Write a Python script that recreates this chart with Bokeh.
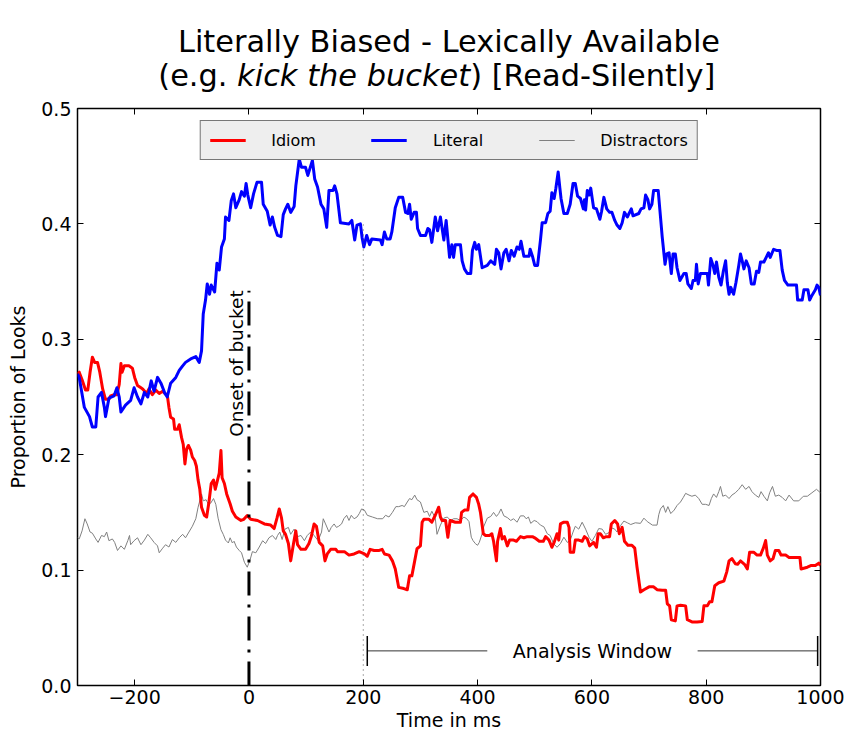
import math
from bokeh.plotting import figure
from bokeh.layouts import column
from bokeh.models import (Label, Legend, LegendItem, LinearAxis, FixedTicker,
                          CustomJSTickFormatter, Range1d)
from bokeh.embed import file_html
from bokeh.resources import INLINE

FONT = "DejaVu Sans"
WIDTH, HEIGHT = 851, 735
HEAD_H = 95
FRAME_TOP = 108
FRAME_LEFT, FRAME_RIGHT = 77, 820

# ---------------------------------------------------------------- data
# Proportion of looks over time (ms relative to onset of "bucket")
literal_t = [-300, -297, -288, -279, -274, -268, -264, -258, -253, -251, -245, -236, -231, -227,
             -224, -216, -207, -201, -195, -189, -183, -177, -171, -166, -160, -154, -147, -143,
             -137, -128, -122, -116, -111, -102, -93, -87, -83, -80, -76, -73, -69, -66, -60, -56,
             -52, -48, -43, -41, -35, -31, -27, -23, -17, -13, -8, -5, -2, 3, 8, 14, 22, 25, 32,
             37, 41, 45, 50, 56, 60, 64, 68, 73, 79, 82, 88, 92, 99, 103, 111, 115, 120, 126, 131,
             136, 140, 147, 150, 154, 160, 175, 180, 185, 189, 195, 198, 201, 206, 211, 215, 230,
             233, 237, 241, 247, 250, 256, 262, 269, 274, 278, 281, 284, 289, 293, 295, 300, 309,
             313, 316, 320, 326, 330, 335, 341, 345, 351, 355, 358, 361, 370, 373, 377, 382, 388,
             391, 395, 398, 402, 408, 417, 423, 430, 433, 437, 441, 446, 450, 455, 459, 464, 469,
             473, 476, 481, 490, 492, 496, 500, 505, 510, 513, 519, 523, 527, 530, 534, 537, 541,
             544, 546, 551, 557, 562, 567, 571, 575, 580, 585, 587, 589, 592, 595, 598, 600, 603,
             608, 614, 617, 621, 626, 631, 635, 640, 644, 649, 653, 657, 662, 669, 672, 682, 686,
             691, 694, 698, 701, 705, 708, 716, 719, 723, 728, 731, 735, 739, 742, 746, 749, 754,
             761, 765, 768, 774, 777, 781, 783, 786, 790, 802, 804, 808, 812, 815, 818, 822, 826,
             830, 834, 837, 840, 843, 848, 852, 857, 860, 863, 866, 870, 875, 879, 884, 888, 892,
             895, 901, 905, 909, 912, 918, 923, 929, 933, 937, 943, 958, 960, 968, 971, 978, 981,
             985, 991, 994, 997, 1000]
literal_v = [0.270, 0.267, 0.241, 0.233, 0.224, 0.224, 0.250, 0.254, 0.241, 0.233, 0.249, 0.251,
             0.258, 0.250, 0.237, 0.243, 0.247, 0.258, 0.250, 0.244, 0.254, 0.250, 0.264, 0.255,
             0.267, 0.262, 0.253, 0.250, 0.262, 0.267, 0.273, 0.277, 0.280, 0.283, 0.285, 0.280,
             0.290, 0.322, 0.334, 0.348, 0.339, 0.347, 0.341, 0.366, 0.360, 0.380, 0.387, 0.406,
             0.403, 0.420, 0.426, 0.414, 0.421, 0.428, 0.424, 0.435, 0.425, 0.414, 0.426, 0.436,
             0.436, 0.417, 0.411, 0.399, 0.406, 0.397, 0.390, 0.389, 0.408, 0.413, 0.417, 0.410,
             0.415, 0.433, 0.456, 0.449, 0.449, 0.442, 0.455, 0.439, 0.432, 0.417, 0.413, 0.397,
             0.429, 0.429, 0.433, 0.426, 0.401, 0.400, 0.403, 0.386, 0.399, 0.400, 0.388, 0.380,
             0.390, 0.382, 0.387, 0.386, 0.382, 0.393, 0.387, 0.387, 0.393, 0.414, 0.423, 0.423,
             0.410, 0.409, 0.417, 0.404, 0.410, 0.410, 0.396, 0.390, 0.390, 0.396, 0.395, 0.384,
             0.406, 0.394, 0.406, 0.386, 0.403, 0.371, 0.382, 0.371, 0.382, 0.382, 0.368, 0.361,
             0.357, 0.357, 0.377, 0.384, 0.378, 0.382, 0.362, 0.364, 0.368, 0.365, 0.378, 0.375,
             0.361, 0.375, 0.378, 0.368, 0.377, 0.372, 0.380, 0.378, 0.385, 0.372, 0.372, 0.378,
             0.372, 0.364, 0.364, 0.386, 0.401, 0.401, 0.409, 0.411, 0.427, 0.422, 0.431, 0.445,
             0.431, 0.422, 0.409, 0.409, 0.417, 0.435, 0.435, 0.424, 0.422, 0.413, 0.421, 0.412,
             0.429, 0.425, 0.431, 0.424, 0.414, 0.413, 0.404, 0.411, 0.423, 0.413, 0.410, 0.410,
             0.403, 0.399, 0.396, 0.401, 0.410, 0.406, 0.413, 0.407, 0.409, 0.413, 0.414, 0.425,
             0.421, 0.413, 0.417, 0.429, 0.429, 0.412, 0.389, 0.365, 0.374, 0.375, 0.357, 0.374,
             0.374, 0.362, 0.351, 0.357, 0.357, 0.348, 0.344, 0.351, 0.351, 0.365, 0.348, 0.357,
             0.357, 0.347, 0.370, 0.364, 0.357, 0.367, 0.354, 0.347, 0.359, 0.368, 0.349, 0.339,
             0.345, 0.339, 0.349, 0.364, 0.374, 0.368, 0.361, 0.368, 0.362, 0.348, 0.348, 0.359,
             0.358, 0.367, 0.367, 0.371, 0.375, 0.371, 0.378, 0.377, 0.377, 0.360, 0.351, 0.347,
             0.347, 0.334, 0.334, 0.343, 0.343, 0.334, 0.338, 0.343, 0.347, 0.345, 0.338]

idiom_t = [-300, -297, -292, -286, -282, -278, -274, -270, -265, -261, -256, -251, -245, -242,
           -236, -231, -227, -224, -222, -218, -210, -204, -200, -195, -189, -186, -179, -175,
           -169, -163, -157, -151, -147, -143, -140, -137, -132, -130, -125, -122, -118, -115,
           -112, -109, -106, -102, -99, -95, -92, -89, -86, -83, -78, -74, -70, -66, -62, -59,
           -55, -52, -49, -47, -43, -39, -33, -29, -23, -14, -9, -3, 3, 15, 27, 38, 44, 49, 53,
           57, 60, 64, 69, 73, 78, 82, 85, 91, 99, 105, 109, 114, 118, 123, 129, 133, 137, 143,
           152, 155, 167, 175, 184, 193, 202, 207, 212, 219, 228, 233, 237, 245, 251, 256, 262,
           271, 277, 281, 285, 290, 294, 300, 303, 306, 315, 320, 326, 332, 335, 338, 344, 348,
           352, 361, 370, 372, 377, 383, 386, 392, 398, 402, 405, 410, 414, 421, 425, 428, 433,
           435, 440, 443, 447, 452, 456, 463, 468, 475, 481, 487, 496, 500, 508, 515, 519, 525,
           530, 534, 539, 542, 545, 551, 557, 560, 562, 568, 571, 577, 583, 587, 592, 596, 603,
           608, 611, 615, 620, 625, 631, 634, 640, 645, 648, 653, 657, 663, 670, 675, 679, 685,
           691, 700, 708, 714, 723, 729, 732, 736, 739, 746, 749, 755, 764, 767, 776, 784, 793,
           796, 802, 806, 810, 815, 822, 831, 836, 840, 845, 851, 855, 860, 867, 872, 876, 883,
           889, 895, 900, 904, 907, 912, 917, 921, 927, 931, 939, 945, 964, 966, 977, 984, 991,
           997, 1000]
idiom_v = [0.270, 0.2715, 0.265, 0.256, 0.256, 0.2715, 0.2845, 0.280, 0.280, 0.2715, 0.257,
           0.248, 0.248, 0.251, 0.252, 0.252, 0.261, 0.279, 0.2715, 0.277, 0.277, 0.275, 0.267,
           0.260, 0.258, 0.257, 0.253, 0.257, 0.252, 0.256, 0.253, 0.255, 0.253, 0.252, 0.241,
           0.2325, 0.231, 0.222, 0.222, 0.226, 0.215, 0.209, 0.192, 0.205, 0.208, 0.204, 0.198,
           0.195, 0.190, 0.178, 0.170, 0.1545, 0.1475, 0.146, 0.159, 0.175, 0.178, 0.170, 0.178,
           0.184, 0.2036, 0.180, 0.175, 0.166, 0.1575, 0.151, 0.146, 0.143, 0.144, 0.1473, 0.144,
           0.143, 0.140, 0.139, 0.136, 0.145, 0.153, 0.145, 0.134, 0.131, 0.123, 0.108, 0.123,
           0.134, 0.122, 0.118, 0.118, 0.123, 0.129, 0.140, 0.138, 0.124, 0.121, 0.108, 0.114,
           0.118, 0.118, 0.116, 0.116, 0.113, 0.114, 0.116, 0.114, 0.112, 0.118, 0.117, 0.117,
           0.118, 0.114, 0.113, 0.108, 0.101, 0.085, 0.084, 0.083, 0.095, 0.095, 0.108, 0.1185,
           0.121, 0.1415, 0.144, 0.144, 0.1415, 0.1475, 0.1545, 0.146, 0.143, 0.143, 0.1285,
           0.143, 0.1415, 0.1415, 0.150, 0.152, 0.152, 0.163, 0.166, 0.163, 0.157, 0.150, 0.1315,
           0.130, 0.130, 0.1315, 0.125, 0.108, 0.125, 0.136, 0.127, 0.129, 0.121, 0.126, 0.126,
           0.125, 0.129, 0.128, 0.129, 0.129, 0.128, 0.125, 0.125, 0.129, 0.126, 0.1198, 0.124,
           0.1315, 0.126, 0.140, 0.1415, 0.1415, 0.137, 0.1155, 0.1155, 0.126, 0.126, 0.125,
           0.129, 0.127, 0.121, 0.124, 0.1198, 0.1315, 0.1315, 0.128, 0.129, 0.129, 0.140, 0.143,
           0.140, 0.1315, 0.137, 0.125, 0.1215, 0.1215, 0.119, 0.1025, 0.081, 0.083, 0.0855,
           0.0855, 0.083, 0.0825, 0.0825, 0.0708, 0.069, 0.057, 0.056, 0.069, 0.0695, 0.069,
           0.057, 0.055, 0.055, 0.0555, 0.069, 0.069, 0.0725, 0.0725, 0.0865, 0.089, 0.0905,
           0.0985, 0.108, 0.110, 0.1055, 0.105, 0.108, 0.105, 0.101, 0.1155, 0.1155, 0.113,
           0.113, 0.119, 0.1256, 0.113, 0.108, 0.110, 0.117, 0.117, 0.113, 0.113, 0.111, 0.111,
           0.101, 0.1025, 0.104, 0.104, 0.106, 0.104]

distractor_t = [-300, -297, -292, -287, -283, -278, -274, -268, -264, -258, -253, -249, -245,
                -239, -235, -230, -224, -218, -212, -209, -207, -201, -195, -189, -183, -177,
                -172, -166, -160, -157, -151, -146, -140, -134, -128, -122, -116, -111, -105,
                -99, -93, -89, -85, -83, -80, -75, -71, -67, -62, -58, -54, -49, -45, -41, -36,
                -33, -29, -26, -22, -17, -13, -8, -3, 2, 6, 12, 18, 24, 29, 35, 41, 47, 50, 54,
                58, 63, 69, 73, 79, 85, 91, 97, 102, 108, 114, 121, 127, 130, 134, 140, 144, 149,
                153, 157, 162, 166, 171, 175, 179, 184, 189, 193, 197, 202, 207, 216, 225, 234,
                239, 245, 251, 257, 262, 268, 272, 277, 281, 285, 290, 294, 300, 306, 312, 316,
                320, 326, 329, 335, 341, 347, 353, 358, 364, 370, 376, 381, 385, 389, 392, 396,
                400, 403, 408, 411, 417, 423, 428, 433, 437, 441, 446, 452, 458, 463, 469, 475,
                481, 485, 489, 493, 499, 504, 510, 516, 522, 527, 533, 539, 545, 551, 557, 562,
                567, 571, 577, 583, 589, 595, 600, 606, 612, 618, 624, 630, 635, 640, 644, 650,
                656, 662, 668, 676, 685, 691, 697, 706, 714, 717, 720, 725, 729, 733, 738, 744,
                749, 755, 760, 764, 770, 775, 781, 787, 793, 799, 805, 809, 813, 818, 822, 825,
                829, 834, 840, 845, 851, 857, 863, 869, 875, 880, 886, 892, 896, 901, 907, 911,
                916, 921, 927, 933, 939, 945, 953, 962, 970, 977, 985, 993, 1000]
distractor_v = [0.128, 0.127, 0.134, 0.1445, 0.140, 0.133, 0.132, 0.127, 0.124, 0.130, 0.129,
                0.133, 0.1255, 0.127, 0.124, 0.117, 0.121, 0.118, 0.1255, 0.130, 0.122, 0.1255,
                0.128, 0.122, 0.126, 0.131, 0.128, 0.124, 0.121, 0.115, 0.119, 0.122, 0.120,
                0.1265, 0.124, 0.128, 0.131, 0.128, 0.133, 0.138, 0.1445, 0.1545, 0.162, 0.166,
                0.160, 0.161, 0.157, 0.158, 0.162, 0.157, 0.145, 0.135, 0.131, 0.126, 0.1235,
                0.128, 0.1235, 0.125, 0.120, 0.117, 0.115, 0.1068, 0.1025, 0.109, 0.116, 0.115,
                0.120, 0.1255, 0.123, 0.128, 0.130, 0.1265, 0.130, 0.133, 0.1265, 0.1355, 0.137,
                0.131, 0.1355, 0.129, 0.130, 0.1255, 0.130, 0.133, 0.130, 0.1255, 0.133, 0.1445,
                0.140, 0.133, 0.137, 0.140, 0.137, 0.138, 0.140, 0.1445, 0.1475, 0.143, 0.1475,
                0.1445, 0.146, 0.149, 0.153, 0.152, 0.1475, 0.146, 0.1445, 0.1445, 0.1475, 0.146,
                0.150, 0.155, 0.155, 0.156, 0.155, 0.159, 0.162, 0.161, 0.165, 0.161, 0.159, 0.150,
                0.151, 0.1465, 0.151, 0.145, 0.131, 0.139, 0.145, 0.146, 0.143, 0.1445, 0.1445,
                0.143, 0.146, 0.1445, 0.142, 0.1285, 0.1256, 0.123, 0.1215, 0.124, 0.1315, 0.138,
                0.145, 0.1465, 0.150, 0.1465, 0.149, 0.153, 0.147, 0.1455, 0.143, 0.1445, 0.1415,
                0.147, 0.147, 0.1445, 0.146, 0.1405, 0.143, 0.142, 0.139, 0.1375, 0.1315, 0.130,
                0.123, 0.1198, 0.123, 0.1285, 0.124, 0.1256, 0.133, 0.138, 0.1355, 0.1415, 0.1355,
                0.1285, 0.125, 0.130, 0.136, 0.1355, 0.131, 0.1325, 0.1365, 0.1355, 0.133, 0.1385,
                0.1425, 0.141, 0.1395, 0.141, 0.1405, 0.145, 0.142, 0.139, 0.139, 0.148, 0.153,
                0.156, 0.150, 0.155, 0.149, 0.152, 0.156, 0.159, 0.163, 0.1665, 0.165, 0.164,
                0.165, 0.162, 0.157, 0.157, 0.156, 0.162, 0.166, 0.163, 0.168, 0.1725, 0.164,
                0.165, 0.162, 0.165, 0.167, 0.170, 0.174, 0.170, 0.1725, 0.168, 0.165, 0.163,
                0.168, 0.164, 0.160, 0.167, 0.1725, 0.164, 0.165, 0.163, 0.160, 0.165, 0.160,
                0.160, 0.164, 0.164, 0.167, 0.170, 0.167]

x_ticks = [-200, 0, 200, 400, 600, 800, 1000]
y_ticks = [0.0, 0.1, 0.2, 0.3, 0.4, 0.5]

onset_ms = 0            # onset of the target word
onset_line_top = 0.342
window_marker_ms = 200  # start of the analysis window (dotted guide)
window_marker_top = 0.40
bracket_start, bracket_end = 207, 995
bracket_y = 0.03
bracket_cap = 0.013
bracket_gap = (417, 785)  # room for the bracket's caption

# ---------------------------------------------------------------- heading
# The heading figure shares the plot's frame edges in the column, so its
# x range is expressed in canvas pixels of that frame.
head = figure(width=WIDTH, height=HEAD_H, x_range=Range1d(FRAME_LEFT, FRAME_RIGHT),
              y_range=Range1d(0, HEAD_H), title=None,
              output_backend="svg", toolbar_location=None, x_axis_type=None, y_axis_type=None,
              min_border_left=0, min_border_right=0, min_border_top=0, min_border_bottom=0)
head.outline_line_color = None
head.grid.visible = False
head.background_fill_color = "white"
head.border_fill_color = "white"

title_size = 30.4
line1_y = HEAD_H - 41   # heading rows measured from the top of the page
line2_y = HEAD_H - 75
head.add_layout(Label(x=448.5, y=line1_y, text="Literally Biased - Lexically Available",
                      text_align="center", text_baseline="alphabetic",
                      text_font=FONT, text_font_size=f"{title_size}px", text_color="black"))
# second line mixes upright and italic text; advance widths in em for DejaVu Sans
em = {"left": 2.594, "mid": 7.668, "right": 8.109}
line2_cx = 437
line2_w = sum(em.values()) * title_size
mid_start = line2_cx - line2_w / 2 + em["left"] * title_size
mid_end = mid_start + em["mid"] * title_size
head.add_layout(Label(x=mid_start - 0.318 * title_size, y=line2_y, text="(e.g.",
                      text_align="right", text_baseline="alphabetic",
                      text_font=FONT, text_font_size=f"{title_size}px", text_color="black"))
head.add_layout(Label(x=mid_start, y=line2_y, text="kick the bucket",
                      text_align="left", text_baseline="alphabetic", text_font_style="italic",
                      text_font=FONT, text_font_size=f"{title_size}px", text_color="black"))
head.add_layout(Label(x=mid_end, y=line2_y, text=") [Read-Silently]",
                      text_align="left", text_baseline="alphabetic",
                      text_font=FONT, text_font_size=f"{title_size}px", text_color="black"))

# ---------------------------------------------------------------- figure
p = figure(width=WIDTH, height=HEIGHT - HEAD_H, x_range=Range1d(-300, 1000),
           y_range=Range1d(0, 0.5), output_backend="svg", toolbar_location=None,
           min_border_left=FRAME_LEFT, min_border_right=WIDTH - FRAME_RIGHT,
           min_border_top=FRAME_TOP - HEAD_H, min_border_bottom=50,
           x_axis_label="Time in ms", y_axis_label="Proportion of Looks")
p.background_fill_color = "white"
p.border_fill_color = "white"
p.outline_line_color = "black"
p.outline_line_width = 1.5
p.grid.visible = False

tick_fmt = {t: (f"\u2212{abs(t)}" if t < 0 else str(t)) for t in x_ticks}
p.xaxis.ticker = FixedTicker(ticks=x_ticks)
p.xaxis.major_label_overrides = tick_fmt
p.yaxis.ticker = FixedTicker(ticks=y_ticks)
p.yaxis.formatter = CustomJSTickFormatter(code="return tick.toFixed(1);")

for ax in (p.xaxis[0], p.yaxis[0]):
    ax.axis_line_color = None
    ax.major_tick_in = 6
    ax.major_tick_out = 0
    ax.major_tick_line_color = "black"
    ax.minor_tick_line_color = None
    ax.major_label_text_font = FONT
    ax.major_label_text_font_size = "19px"
    ax.major_label_text_color = "black"
    ax.axis_label_text_font = FONT
    ax.axis_label_text_font_size = "19px"
    ax.axis_label_text_font_style = "normal"
    ax.axis_label_text_color = "black"
p.xaxis.major_label_standoff = 4
p.xaxis.axis_label_standoff = 2
p.yaxis.major_label_standoff = 6
p.yaxis.axis_label_standoff = 9

# mirrored ticks on the top and right edges
blank = CustomJSTickFormatter(code="return '';")
top_ax = LinearAxis(ticker=FixedTicker(ticks=x_ticks), formatter=blank)
right_ax = LinearAxis(ticker=FixedTicker(ticks=y_ticks), formatter=blank)
for ax in (top_ax, right_ax):
    ax.axis_line_color = None
    ax.major_tick_in = 6
    ax.major_tick_out = 0
    ax.minor_tick_line_color = None
    ax.major_label_standoff = 0
p.add_layout(top_ax, "above")
p.add_layout(right_ax, "right")

# ---------------------------------------------------------------- series
r_dis = p.line(distractor_t, distractor_v, line_color="#808080", line_width=1)
r_idi = p.line(idiom_t, idiom_v, line_color="#ff0000", line_width=3, line_join="round")
r_lit = p.line(literal_t, literal_v, line_color="#0000ff", line_width=3, line_join="round")

# onset of the target word
p.segment(x0=[onset_ms], y0=[0], x1=[onset_ms], y1=[onset_line_top],
          line_color="black", line_width=3, line_dash="24 9 3 9")
p.add_layout(Label(x=onset_ms - 21, y=0.279, angle=math.pi / 2,
                   text="Onset of bucket", text_align="center", text_baseline="middle",
                   text_font=FONT, text_font_size="18.5px", text_color="black"))

# dotted guide at the start of the analysis window
p.segment(x0=[window_marker_ms], y0=[0], x1=[window_marker_ms], y1=[window_marker_top],
          line_color="#555555", line_width=1, line_dash="1 4")

# analysis window bracket
p.segment(x0=[bracket_start, bracket_gap[1]], y0=[bracket_y, bracket_y],
          x1=[bracket_gap[0], bracket_end], y1=[bracket_y, bracket_y],
          line_color="#333333", line_width=1)
p.segment(x0=[bracket_start, bracket_end], y0=[bracket_y - bracket_cap] * 2,
          x1=[bracket_start, bracket_end], y1=[bracket_y + bracket_cap] * 2,
          line_color="black", line_width=1.5)
p.add_layout(Label(x=(bracket_gap[0] + bracket_gap[1]) / 2, y=bracket_y,
                   text="Analysis Window", text_align="center", text_baseline="middle",
                   text_font=FONT, text_font_size="19px", text_color="black"))

# ---------------------------------------------------------------- legend
legend = Legend(items=[LegendItem(label="Idiom", renderers=[r_idi]),
                       LegendItem(label="Literal", renderers=[r_lit]),
                       LegendItem(label="Distractors", renderers=[r_dis])],
                location="top_center", orientation="horizontal",
                margin=12, padding=9, spacing=55, glyph_width=36, label_standoff=26,
                label_text_font=FONT, label_text_font_size="16px", label_text_color="black",
                border_line_color="black", border_line_width=1.5,
                background_fill_color="#eeeeee", background_fill_alpha=1.0)
p.add_layout(legend)

open("out.html", "w").write(file_html(column(head, p, spacing=0), INLINE))
